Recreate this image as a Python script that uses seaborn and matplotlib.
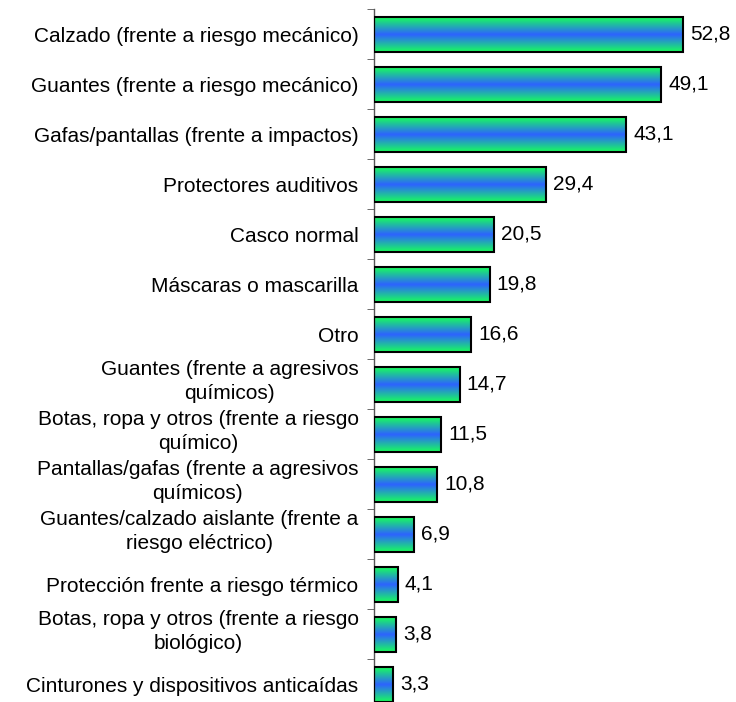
import numpy as np
import pandas as pd
import seaborn as sns
import matplotlib.pyplot as plt
import matplotlib.transforms as mtransforms
from matplotlib.colors import LinearSegmentedColormap

sns.set_style('white')
plt.rcParams['font.family'] = ['Liberation Sans', 'DejaVu Sans']
plt.rcParams['text.color'] = 'black'
plt.rcParams['ytick.labelcolor'] = 'black'

categories = [
    'Calzado (frente a riesgo mecánico)',
    'Guantes (frente a riesgo mecánico)',
    'Gafas/pantallas (frente a impactos)',
    'Protectores auditivos',
    'Casco normal',
    'Máscaras o mascarilla',
    'Otro',
    'Guantes (frente a agresivos\nquímicos)',
    'Botas, ropa y otros (frente a riesgo\nquímico)',
    'Pantallas/gafas (frente a agresivos\nquímicos)',
    'Guantes/calzado aislante (frente a\nriesgo eléctrico)',
    'Protección frente a riesgo térmico',
    'Botas, ropa y otros (frente a riesgo\nbiológico)',
    'Cinturones y dispositivos anticaídas',
]
values = [52.8, 49.1, 43.1, 29.4, 20.5, 19.8, 16.6, 14.7, 11.5, 10.8, 6.9, 4.1, 3.8, 3.3]

df = pd.DataFrame({'equipo': categories, 'pct': values})

fig = plt.figure(figsize=(7.36, 7.02), dpi=100)
ax = fig.add_axes([0.508, -0.01, 0.477, 0.997])

sns.barplot(data=df, x='pct', y='equipo', orient='h', width=0.7,
            color='#3366ff', edgecolor='black', linewidth=1.5, ax=ax)

# green-blue-green gradient across bar height
cmap = LinearSegmentedColormap.from_list('gb', ['#18ff5a', '#2d62ff', '#18ff5a'])
grad = np.linspace(0, 1, 256).reshape(-1, 1)
for bar in ax.patches:
    x0, y0 = bar.get_x(), bar.get_y()
    w, h = bar.get_width(), bar.get_height()
    im = ax.imshow(grad, cmap=cmap, aspect='auto', extent=(x0, x0 + w, y0 + h, y0),
                   zorder=bar.get_zorder() - 0.1, interpolation='bilinear')
    im.set_clip_path(bar)
    bar.set_facecolor('none')
    bar.set_zorder(3)

ax.set_xlim(0, 60)
ax.set_ylim(len(categories) - 0.5, -0.5)
ax.bar_label(ax.containers[0], labels=[f'{v:.1f}'.replace('.', ',') for v in values],
             padding=5, fontsize=15, color='black')

ax.set_xlabel('')
ax.set_ylabel('')
ax.set_xticks([])
for side in ['top', 'right', 'bottom']:
    ax.spines[side].set_visible(False)
ax.spines['left'].set_color('#555555')
ax.spines['left'].set_linewidth(1)

ax.set_yticks(np.arange(len(categories) + 1) - 0.5, minor=True)
ax.tick_params(axis='y', which='minor', length=5, direction='out', color='#555555', left=True)
ax.tick_params(axis='y', which='major', length=0, pad=11, labelsize=15, labelcolor='black')

# wrapped labels sit a bit higher than the bar centre
shift = mtransforms.ScaledTranslation(0, 7 / 100, fig.dpi_scale_trans)
for lbl in ax.get_yticklabels():
    lbl.set_multialignment('center')
    lbl.set_linespacing(1.35)
    if '\n' in lbl.get_text():
        lbl.set_transform(lbl.get_transform() + shift)

fig.savefig('out.png', dpi=100)
